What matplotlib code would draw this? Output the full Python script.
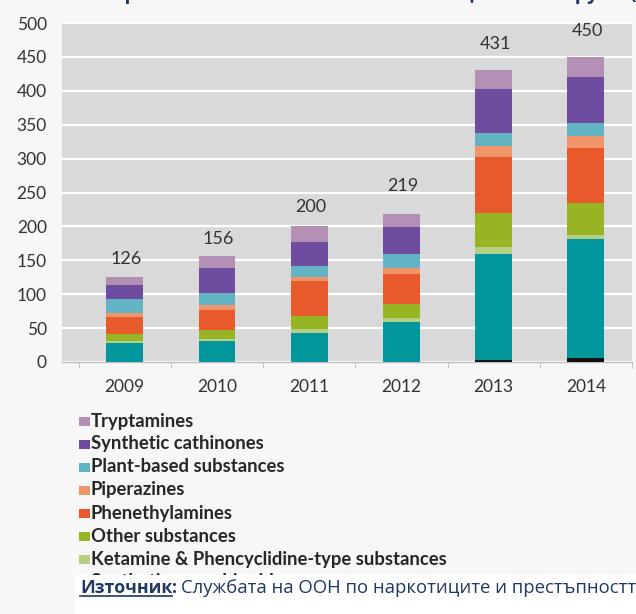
import matplotlib
matplotlib.use("Agg")
import matplotlib.pyplot as plt
import numpy as np
from matplotlib.patches import Rectangle
from matplotlib.transforms import Bbox

years = ["2009", "2010", "2011", "2012", "2013", "2014"]
totals = [126, 156, 200, 219, 431, 450]

# stack order: bottom -> top
aminoindanes = [0, 0, 0, 0, 3, 6]
synthetic_cannabinoids = [28, 31, 43, 59, 156, 175]
ketamine_pcp = [3, 3, 5, 6, 10, 6]
other_substances = [11, 13, 20, 21, 51, 47]
phenethylamines = [24, 30, 51, 44, 82, 82]
piperazines = [7, 7, 7, 8, 16, 18]
plant_based = [20, 18, 15, 22, 20, 19]
synthetic_cathinones = [21, 37, 36, 39, 65, 67]
tryptamines = [12, 17, 23, 20, 28, 30]

series = [
    ("Aminoindanes", aminoindanes, "#111111"),
    ("Synthetic cannabinoids", synthetic_cannabinoids, "#00969b"),
    ("Ketamine & Phencyclidine-type substances", ketamine_pcp, "#b5cf86"),
    ("Other substances", other_substances, "#97b424"),
    ("Phenethylamines", phenethylamines, "#e8592b"),
    ("Piperazines", piperazines, "#f0946a"),
    ("Plant-based substances", plant_based, "#62b4c4"),
    ("Synthetic cathinones", synthetic_cathinones, "#6e4c9f"),
    ("Tryptamines", tryptamines, "#b48fb4"),
]

title_text = "Брой на новите психоактивни вещества по групи (2009-2014 г.)"
source_label = "Източник"
source_text = "Службата на ООН по наркотиците и престъпността"

plt.rcParams['font.family'] = ['Lato', 'DejaVu Sans']

W, H = 636, 614
fig = plt.figure(figsize=(W / 100, H / 100), dpi=100)
fig.patch.set_facecolor("#f7f7f7")

ax_l, ax_r, ax_t, ax_b = 62, 632, 23, 362
ax = fig.add_axes([ax_l / W, 1 - ax_b / H, (ax_r - ax_l) / W, (ax_b - ax_t) / H])
ax.set_facecolor("#d9d9d9")

x = np.arange(len(years))
bottom = np.zeros(len(years))
for name, vals, col in series:
    v = np.array(vals, dtype=float)
    ax.bar(x, v, bottom=bottom, width=0.4, color=col, edgecolor="none", zorder=3)
    bottom += v

ax.set_ylim(0, 500)
ax.set_xlim(-0.68, 5.5)
ax.set_yticks(range(0, 501, 50))
ax.yaxis.grid(True, color="white", linewidth=1.6, zorder=1)
ax.set_axisbelow(True)
for s in ["top", "right", "left"]:
    ax.spines[s].set_visible(False)
ax.spines["bottom"].set_color("#bdbdbd")
ax.spines["bottom"].set_linewidth(1.0)
ax.tick_params(axis="y", length=0, labelsize=12.5, labelcolor="#333333", pad=11)
ax.set_xticks(x)
ax.set_xticklabels(years)
ax.tick_params(axis="x", length=0, labelsize=12.5, labelcolor="#333333", pad=12)
ax.set_xticks(np.arange(-0.5, 5.6, 1), minor=True)
ax.tick_params(axis="x", which="minor", length=4, color="#bdbdbd")

label_offsets = [7, 6.5, 8, 14, 13, 13]
for xi, tot, off in zip(x, totals, label_offsets):
    ax.annotate(str(tot), (xi, tot), xytext=(1, off), textcoords="offset points",
                ha="center", va="bottom", fontsize=13, color="#333333", zorder=5)

# clipped title at the very top (only descenders visible, as in the screenshot)
fig.text(112 / W, 1 + 1.5 / H, title_text, fontsize=14, fontweight="bold",
         color="#1f3864", va="baseline", ha="left",
         family=['Open Sans', 'DejaVu Sans'])

box_top = 575
# legend (reversed order, drawn in figure pixels)
legend_items = series[1:][::-1]
y0 = 421
clip_bb = Bbox.from_extents(0, H - box_top, W, H)  # display coords (origin bottom-left)
for i, (name, vals, col) in enumerate(legend_items):
    yy = y0 + i * 23
    fig.patches.append(Rectangle((79 / W, 1 - (yy + 5) / H), 11 / W, 9 / H,
                                 transform=fig.transFigure, facecolor=col,
                                 edgecolor="none", figure=fig))
    t = fig.text(91 / W, 1 - yy / H, name, fontsize=13.3, fontweight="bold",
                 color="#262626", va="center", ha="left")
    if yy + 8 > box_top:
        t.set_clip_box(clip_bb)
        t.set_clip_on(True)

# source box overlay
fig.patches.append(Rectangle((75 / W, 0), 1, (H - box_top) / H, transform=fig.transFigure,
                             facecolor="white", edgecolor="none", figure=fig, zorder=10))
fs = 12.8
t1 = fig.text(80 / W, 1 - 593 / H, source_label, fontsize=fs, fontweight="bold",
              color="#1f3864", va="baseline", ha="left", zorder=11,
              family=['Open Sans', 'DejaVu Sans'])
fig.canvas.draw()
bb = t1.get_window_extent()
fig.add_artist(plt.Line2D([bb.x0 / W, bb.x1 / W], [1 - 596 / H, 1 - 596 / H],
                          transform=fig.transFigure, color="#1f3864", linewidth=1.2, zorder=11))
t2 = fig.text(bb.x1 / W, 1 - 593 / H, ":", fontsize=fs, fontweight="bold",
              color="#1f3864", va="baseline", ha="left", zorder=11,
              family=['Open Sans', 'DejaVu Sans'])
fig.canvas.draw()
bb2 = t2.get_window_extent()
fig.text(bb2.x1 / W + 4 / W, 1 - 593 / H, source_text,
         fontsize=13.3, color="#1f3864", va="baseline", ha="left", zorder=11,
         family=['Open Sans', 'DejaVu Sans'])

fig.savefig("out.png", dpi=100, facecolor=fig.get_facecolor())
